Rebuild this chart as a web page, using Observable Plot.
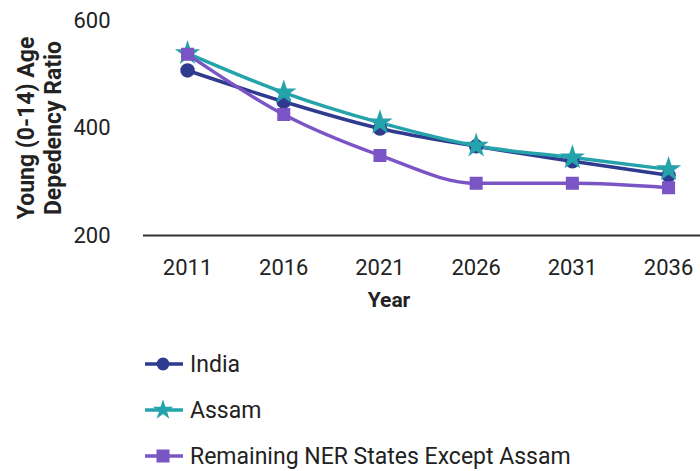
<!DOCTYPE html>
<html><head><meta charset="utf-8">
<script src="https://cdn.jsdelivr.net/npm/d3@7"></script>
<script src="https://cdn.jsdelivr.net/npm/@observablehq/plot@0.6"></script>
<style>
body{margin:0;background:#fff;font-family:Roboto,sans-serif;}
#legend{padding-top:21px;}
.item{height:46px;display:flex;align-items:center;padding-left:143px;font-size:23px;color:#222;}
.item svg{margin-right:5px;}
</style></head>
<body><div id="chart"></div><div id="legend"></div>
<script>
const years = [2011, 2016, 2021, 2026, 2031, 2036];
const seriesNames = ["India", "Assam", "Remaining NER States Except Assam"];
const india = [507, 449, 399, 366, 338, 312];
const assam = [539, 466, 410, 367, 345, 323];
const ner = [537, 425, 349, 297, 297, 289];
const yTicks = [200, 400, 600];
const colors = ["#2f3b8f", "#25a3ab", "#7b55c6"];
const symbols = ["circle", "star", "square"];

const data = [];
[india, assam, ner].forEach((vals, i) => vals.forEach((v, j) => data.push({series: seriesNames[i], year: years[j], value: v})));

const chart = Plot.plot({
  width: 700, height: 320,
  marginLeft: 143, marginRight: 0, marginTop: 20, marginBottom: 85,
  style: {fontFamily: "Roboto, sans-serif", color: "#222", background: "#fff"},
  x: {domain: [2008.71, 2037.66], label: null},
  y: {domain: [200, 600], label: null},
  color: {domain: seriesNames, range: colors},
  symbol: {domain: seriesNames, range: symbols},
  marks: [
    Plot.axisX({ticks: years, tickFormat: d => String(d), tickSize: 0, tickPadding: 24, fontSize: 22, label: null}),
    Plot.axisY({ticks: yTicks, tickSize: 0, tickPadding: 33, fontSize: 22, label: null}),
    Plot.ruleY([200], {stroke: "#333", strokeWidth: 2}),
    Plot.line(data, {x: "year", y: "value", z: "series", stroke: "series", strokeWidth: 3.5, curve: "monotone-x"}),
    Plot.dot(data, {x: "year", y: "value", fill: "series", stroke: "series", symbol: "series", r: 6.5}),
    Plot.text(["Young (0-14) Age\nDepedency Ratio"], {frameAnchor: "left", textAnchor: "middle", dx: -105, rotate: -90, fontSize: 23, fontWeight: "bold", lineHeight: 1.2, fill: "#222"}),
    Plot.text(["Year"], {frameAnchor: "bottom", dx: -33, dy: 71, fontSize: 21, fontWeight: "bold", fill: "#222"})
  ]
});
document.getElementById("chart").append(chart);

const legend = document.getElementById("legend");
seriesNames.forEach((name, i) => {
  const div = document.createElement("div");
  div.className = "item";
  const sym = d3.symbol().type(i === 0 ? d3.symbolCircle : i === 1 ? d3.symbolStar : d3.symbolSquare).size(i === 2 ? 170 : 130)();
  div.innerHTML = `<svg width="42" height="20"><line x1="2" x2="40" y1="10" y2="10" stroke="${colors[i]}" stroke-width="3.5"/><path transform="translate(20,10)" d="${sym}" fill="${colors[i]}"/></svg><span>${name}</span>`;
  legend.append(div);
});
</script></body></html>
